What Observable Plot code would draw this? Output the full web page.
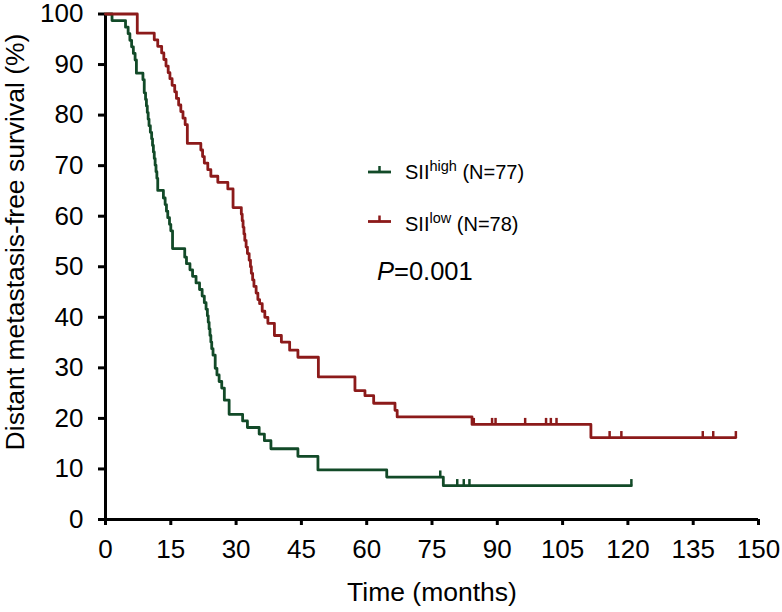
<!DOCTYPE html>
<html><head><meta charset="utf-8">
<script src="https://cdn.jsdelivr.net/npm/d3@7"></script>
<script src="https://cdn.jsdelivr.net/npm/@observablehq/plot@0.6"></script>
<style>
body{margin:0;background:#fff;}
#wrap{position:relative;width:782px;height:612px;font-family:"Liberation Sans",Arial,sans-serif;}
#wrap svg.overlay{position:absolute;left:0;top:0;pointer-events:none;}
</style></head><body><div id="wrap"></div>
<script>
// SII high (N=77): step times (months) and survival (%) after each step
const highTime = [0, 1.5, 4.6, 5.2, 5.6, 6.0, 6.4, 6.8, 7.1, 8.6, 8.9, 9.2, 9.4, 9.6, 9.8, 10.0, 10.3, 10.6, 10.8, 11.0, 11.2, 11.4, 11.6, 11.8, 12.0, 13.3, 13.7, 14.0, 14.3, 14.7, 15.0, 15.4, 18.2, 18.6, 19.4, 20.0, 20.8, 21.6, 22.2, 22.7, 23.1, 23.4, 23.6, 23.8, 24.0, 24.2, 24.4, 24.7, 25.2, 25.6, 26.1, 26.7, 27.3, 28.4, 31.5, 32.6, 35.3, 36.5, 38.0, 44.2, 48.8, 64.6, 77.6, 120.8];
const highSurv = [100, 98.7, 97.4, 96.1, 94.8, 93.5, 92.2, 90.9, 88.3, 87.0, 84.4, 83.1, 81.8, 80.5, 79.2, 77.9, 76.6, 75.3, 74.0, 72.7, 71.4, 70.1, 68.8, 67.5, 65.1, 63.6, 62.3, 61.0, 59.7, 58.4, 57.1, 53.6, 51.9, 50.6, 49.4, 48.1, 46.8, 45.5, 44.2, 42.9, 41.6, 40.3, 39.0, 37.7, 36.4, 35.1, 33.8, 32.5, 29.9, 28.6, 27.3, 26.0, 23.6, 20.8, 19.5, 18.2, 16.9, 15.6, 14.0, 12.5, 9.8, 8.4, 6.7, 6.7];
// SII low (N=78)
const lowTime = [0, 7.3, 11.2, 12.0, 12.9, 13.4, 13.9, 14.4, 14.8, 15.3, 15.9, 16.3, 16.8, 17.3, 17.8, 18.3, 18.8, 21.9, 22.3, 22.7, 23.5, 24.2, 25.8, 28.1, 29.3, 31.2, 31.4, 31.6, 31.8, 32.0, 32.3, 32.6, 33.0, 33.3, 33.5, 33.8, 34.1, 34.6, 35.0, 35.4, 36.0, 36.6, 37.3, 38.8, 40.4, 42.3, 44.2, 48.9, 57.3, 59.6, 61.6, 66.5, 67.0, 84.2, 111.5, 144.8];
const lowSurv = [100, 96.2, 94.9, 93.6, 92.3, 91.0, 89.7, 88.4, 87.2, 85.9, 84.6, 83.3, 82.0, 80.7, 79.4, 78.1, 74.4, 73.1, 71.8, 70.5, 69.2, 67.9, 66.7, 65.4, 61.7, 60.4, 59.1, 57.8, 56.5, 55.2, 53.9, 52.6, 51.3, 50.0, 48.7, 47.4, 46.1, 44.8, 43.5, 42.7, 41.2, 40.0, 38.8, 36.4, 35.1, 33.5, 32.1, 28.2, 25.5, 24.5, 23.0, 21.6, 20.3, 18.8, 16.2, 16.2];
// censored observations
const highCensorTime = [76.9, 80.8, 82.3, 83.6, 120.8];
const highCensorSurv = [8.4, 6.7, 6.7, 6.7, 6.7];
const lowCensorTime = [84.6, 88.8, 89.6, 96.4, 101.2, 102.3, 103.6, 115.8, 118.5, 137.2, 139.6, 144.8];
const lowCensorSurv = [18.8, 18.8, 18.8, 18.8, 18.8, 18.8, 18.8, 16.2, 16.2, 16.2, 16.2, 16.2];

const xTicks = [0, 15, 30, 45, 60, 75, 90, 105, 120, 135, 150];
const yTicks = [0, 10, 20, 30, 40, 50, 60, 70, 80, 90, 100];
const xTitle = "Time (months)";
const yTitle = "Distant metastasis-free survival (%)";
const pText = "=0.001";

const green = "#124a28";
const red = "#8c1a1a";

const highData = highTime.map((t, i) => ({t, s: highSurv[i]}));
const lowData = lowTime.map((t, i) => ({t, s: lowSurv[i]}));
const highCensor = highCensorTime.map((t, i) => ({t, s: highCensorSurv[i]}));
const lowCensor = lowCensorTime.map((t, i) => ({t, s: lowCensorSurv[i]}));

const chart = Plot.plot({
  width: 782, height: 612,
  marginLeft: 105, marginRight: 24, marginTop: 13.5, marginBottom: 93,
  style: {fontFamily: "Liberation Sans, Arial, sans-serif", color: "#000", background: "#fff", fontSize: "26px", overflow: "visible"},
  x: {domain: [0, 150]},
  y: {domain: [0, 100]},
  marks: [
    Plot.axisX({ticks: xTicks, tickSize: 6, tickPadding: 14, fontSize: 26, strokeWidth: 3, label: null, tickFormat: d => String(d)}),
    Plot.axisY({ticks: yTicks, tickSize: 7, tickPadding: 15, fontSize: 26, strokeWidth: 3, label: null, tickFormat: d => String(d)}),
    Plot.ruleY([0], {strokeWidth: 3, stroke: "#000"}),
    Plot.ruleX([0], {strokeWidth: 3, stroke: "#000"}),
    Plot.line(highData, {x: "t", y: "s", curve: "step-after", stroke: green, strokeWidth: 2.8}),
    Plot.line(lowData, {x: "t", y: "s", curve: "step-after", stroke: red, strokeWidth: 2.8}),
    Plot.ruleX(highCensor, {x: "t", y1: "s", y2: d => d.s + 1.2, stroke: green, strokeWidth: 2.5}),
    Plot.ruleX(lowCensor, {x: "t", y1: "s", y2: d => d.s + 1.2, stroke: red, strokeWidth: 2.5}),
    Plot.text([xTitle], {text: d => d, frameAnchor: "bottom", lineAnchor: "bottom", dy: 81, fontSize: 26.5, fill: "#000"}),
    Plot.text([yTitle], {text: d => d, frameAnchor: "left", textAnchor: "middle", rotate: -90, lineAnchor: "bottom", dx: -82, dy: -24.75, fontSize: 26.5, fill: "#000"})
  ]
});
// thicker axis tick strokes, as in the reference
d3.select(chart).selectAll('[aria-label="x-axis tick"], [aria-label="y-axis tick"]').attr("stroke-width", 3);
const wrap = document.getElementById("wrap");
wrap.appendChild(chart);

// legend and P value overlay
const ov = d3.select(wrap).append("svg").attr("class", "overlay").attr("width", 782).attr("height", 612)
  .style("font-family", "Liberation Sans, Arial, sans-serif");
const legend = [
  {label: "SII", sup: "high", n: " (N=77)", color: green, ly: 172, ty: 178.5},
  {label: "SII", sup: "low", n: " (N=78)", color: red, ly: 221.5, ty: 231}
];
legend.forEach(L => {
  ov.append("line").attr("x1", 368).attr("x2", 391).attr("y1", L.ly).attr("y2", L.ly).attr("stroke", L.color).attr("stroke-width", 2.8);
  ov.append("line").attr("x1", 379.5).attr("x2", 379.5).attr("y1", L.ly).attr("y2", L.ly - 6).attr("stroke", L.color).attr("stroke-width", 2.5);
  const t = ov.append("text").attr("x", 405).attr("y", L.ty).attr("font-size", 20).attr("fill", "#000");
  t.append("tspan").text(L.label);
  t.append("tspan").attr("dy", -8).attr("font-size", 14.5).text(L.sup);
  t.append("tspan").attr("dy", 8).attr("font-size", 20).text(L.n);
});
const pt = ov.append("text").attr("x", 377).attr("y", 280).attr("font-size", 25.5).attr("fill", "#000");
pt.append("tspan").attr("font-style", "italic").text("P");
pt.append("tspan").text(pText);
</script>
</body></html>
